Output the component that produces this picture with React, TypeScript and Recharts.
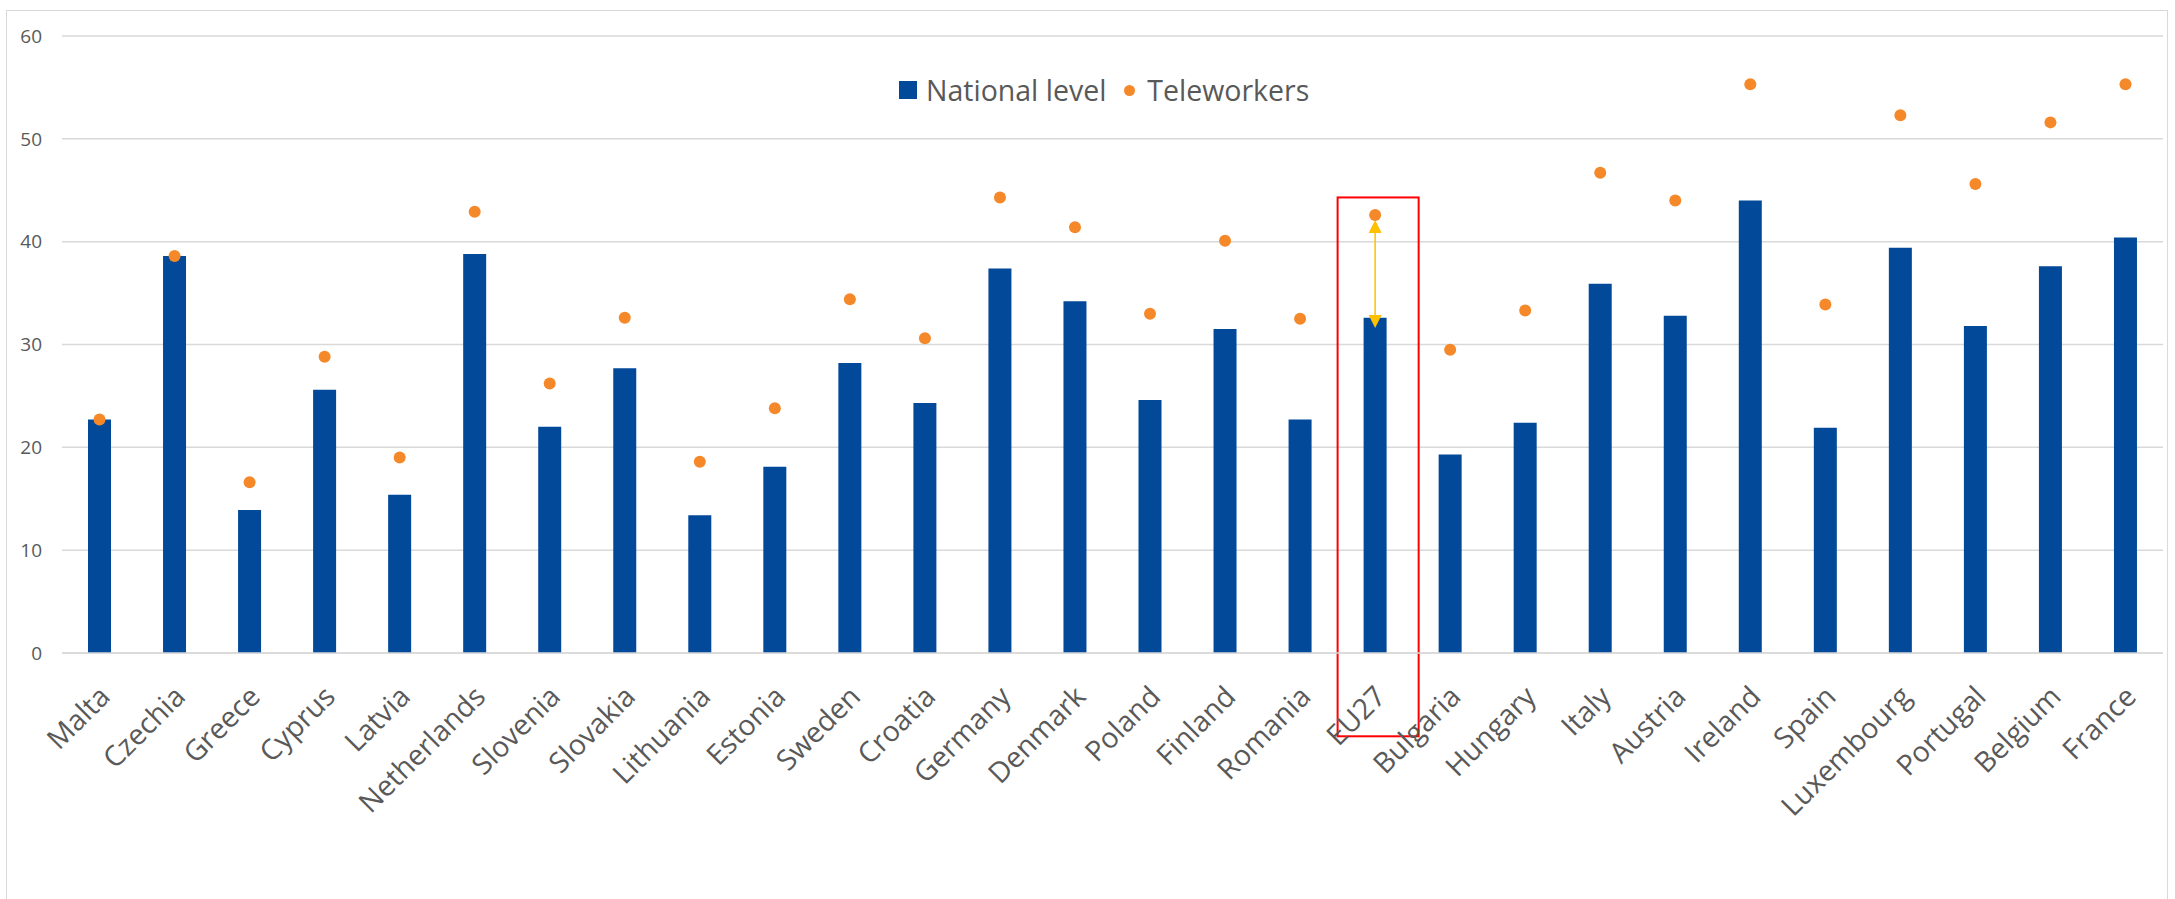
import React from 'react';
import {
  ComposedChart,
  Bar,
  Line,
  XAxis,
  YAxis,
  CartesianGrid,
  Legend,
  ReferenceArea,
  ReferenceLine,
} from 'recharts';

const countries = [
  'Malta', 'Czechia', 'Greece', 'Cyprus', 'Latvia', 'Netherlands', 'Slovenia',
  'Slovakia', 'Lithuania', 'Estonia', 'Sweden', 'Croatia', 'Germany', 'Denmark',
  'Poland', 'Finland', 'Romania', 'EU27', 'Bulgaria', 'Hungary', 'Italy', 'Austria',
  'Ireland', 'Spain', 'Luxembourg', 'Portugal', 'Belgium', 'France',
];
const nationalLevel = [
  22.7, 38.6, 13.9, 25.6, 15.4, 38.8, 22.0, 27.7, 13.4, 18.1, 28.2, 24.3, 37.4, 34.2,
  24.6, 31.5, 22.7, 32.6, 19.3, 22.4, 35.9, 32.8, 44.0, 21.9, 39.4, 31.8, 37.6, 40.4,
];
const teleworkers = [
  22.7, 38.6, 16.6, 28.8, 19.0, 42.9, 26.2, 32.6, 18.6, 23.8, 34.4, 30.6, 44.3, 41.4,
  33.0, 40.1, 32.5, 42.6, 29.5, 33.3, 46.7, 44.0, 55.3, 33.9, 52.3, 45.6, 51.6, 55.3,
];
const yTicks = [0, 10, 20, 30, 40, 50, 60];
const highlight = 'EU27';
const arrowTop = 42.1;
const arrowBottom = 31.6;
const boxTop = 44.3;
const boxBottom = -8.1;

const data = countries.map((c, i) => ({
  country: c,
  national: nationalLevel[i],
  tele: teleworkers[i],
}));

const BLUE = '#02499A';
const ORANGE = '#F5892A';
const TEXT = '#595959';
const GRID = '#D9D9D9';
const FONT = '"Open Sans", sans-serif';

const XTick = (props: any) => {
  const { x, y, payload } = props;
  const ax = x - 2;
  const ay = y;
  return (
    <text
      x={ax}
      y={ay}
      transform={`rotate(-45, ${ax}, ${ay})`}
      textAnchor="end"
      dy="0.71em"
      fontSize={28.5}
      fill={TEXT}
      fontFamily={FONT}
    >
      {payload.value}
    </text>
  );
};

const LegendContent = () => (
  <div
    style={{
      display: 'flex',
      alignItems: 'center',
      fontFamily: FONT,
      fontSize: 28.5,
      lineHeight: '28px',
      color: TEXT,
      whiteSpace: 'nowrap',
    }}
  >
    <span style={{ width: 18, height: 18, background: BLUE, display: 'inline-block', marginRight: 9 }} />
    <span>National level</span>
    <span
      style={{
        width: 11,
        height: 11,
        borderRadius: '50%',
        background: ORANGE,
        display: 'inline-block',
        marginLeft: 18,
        marginRight: 12,
      }}
    />
    <span>Teleworkers</span>
  </div>
);

const ArrowShape = (props: any) => {
  const { x1, y1, x2, y2 } = props;
  const top = Math.min(y1, y2);
  const bot = Math.max(y1, y2);
  const x = x1;
  const h = 13;
  const w = 6.5;
  return (
    <g>
      <line x1={x} y1={top + h} x2={x} y2={bot - h} stroke="#FFC000" strokeWidth={1.5} />
      <polygon points={`${x},${top} ${x - w},${top + h} ${x + w},${top + h}`} fill="#FFC000" />
      <polygon points={`${x},${bot} ${x - w},${bot - h} ${x + w},${bot - h}`} fill="#FFC000" />
    </g>
  );
};

const BoxShape = (props: any) => {
  const { x, y, width, height } = props;
  return (
    <rect x={x} y={y} width={width + 6} height={height} fill="none" stroke="#FF0000" strokeWidth={2} />
  );
};

export default function App() {
  return (
    <div style={{ position: 'absolute', left: 0, top: 0, width: 2175, height: 899, overflow: 'hidden', background: '#fff' }}>
      <div
        style={{
          position: 'absolute',
          left: 6,
          top: 10,
          width: 2162,
          height: 920,
          border: `1px solid ${GRID}`,
          boxSizing: 'border-box',
        }}
      />
      <div style={{ position: 'absolute', left: 0, top: 0 }}>
        <ComposedChart
          width={2175}
          height={899}
          data={data}
          margin={{ top: 36, right: 12, left: 0, bottom: 46 }}
        >
          <CartesianGrid vertical={false} stroke={GRID} strokeWidth={1.5} />
          <XAxis
            dataKey="country"
            interval={0}
            tickLine={false}
            tickSize={0}
            tickMargin={31}
            axisLine={{ stroke: GRID, strokeWidth: 1.5 }}
            height={200}
            tick={<XTick />}
          />
          <YAxis
            domain={[0, 60]}
            ticks={yTicks}
            width={62}
            axisLine={false}
            tickLine={false}
            tickSize={0}
            tickMargin={20}
            tick={{ fontSize: 19, fill: TEXT, fontFamily: FONT }}
          />
          <Legend
            layout="vertical"
            align="center"
            verticalAlign="middle"
            content={<LegendContent />}
            wrapperStyle={{ left: 899, top: 76, width: 500 }}
          />
          <Bar
            dataKey="national"
            name="National level"
            fill={BLUE}
            barSize={23}
            isAnimationActive={false}
          />
          <Line
            dataKey="tele"
            name="Teleworkers"
            stroke="none"
            dot={{ r: 6, fill: ORANGE, stroke: 'none' }}
            activeDot={false}
            legendType="circle"
            isAnimationActive={false}
          />
          <ReferenceArea
            x1={highlight}
            x2={highlight}
            y1={boxBottom}
            y2={boxTop}
            ifOverflow="visible"
            shape={<BoxShape />}
          />
          <ReferenceLine
            segment={[
              { x: highlight, y: arrowTop },
              { x: highlight, y: arrowBottom },
            ]}
            ifOverflow="visible"
            shape={<ArrowShape />}
          />
        </ComposedChart>
      </div>
    </div>
  );
}
